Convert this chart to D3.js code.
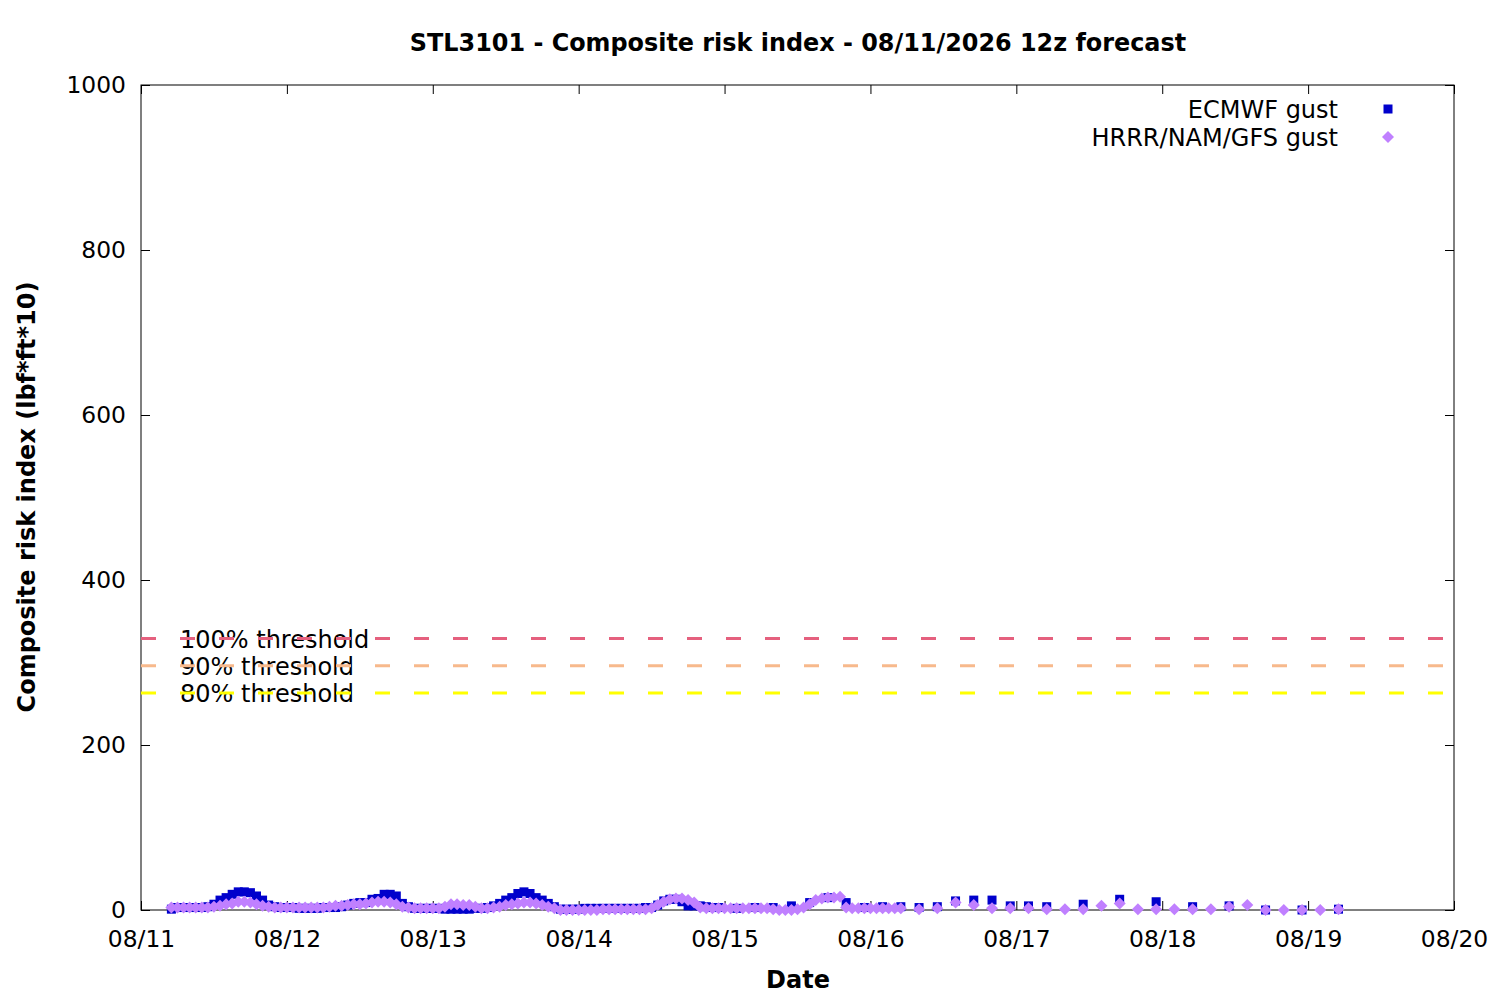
<!DOCTYPE html>
<html>
<head>
<meta charset="utf-8">
<script src="https://cdn.jsdelivr.net/npm/d3@7"></script>
<style>
  body { margin: 0; background: #fff; }
  svg { font-family: "DejaVu Sans", sans-serif; }
</style>
</head>
<body>
<div id="chart"></div>
<script>
// forecast hours (from 08/11 00:00 local) and values
var ecmwfSteps = [[5, 95, 1], [98, 149, 3], [155, 197, 6]];
var ecmwfValues = [
  1, 3, 3, 3, 3, 3, 4, 7, 12, 15, 19, 22, 22, 21, 17, 12, 6, 4,
  3, 3, 3, 2, 2, 2, 2, 3, 3, 3, 4,
  6, 8, 9, 9, 13, 14, 19, 19, 17, 8, 4,
  2, 2, 2, 2, 2, 1, 1, 1, 1, 1, 2,
  2, 3, 5, 8, 12, 15, 20, 22, 20, 15, 12, 8, 4,
  1, 1, 1, 1, 2, 2, 2, 2, 2, 2, 2, 2, 2, 2, 3,
  3, 6, 11, 13, 13, 10, 5, 5, 5, 4, 3, 3,
  // 3-hourly
  2, 3, 3, 5, 9, 15, 9, 3, 4, 4, 3, 4, 11, 12, 12, 5, 5, 4,
  // 6-hourly
  7, 13, 10, 4, 5, 0, 0, 1
];
var gfsSteps = [[5, 125, 1], [128, 197, 3]];
var gfsValues = [
  3, 3, 3, 3, 3, 3, 3,
  4, 5, 7, 8, 10, 10, 9, 7, 5, 4,
  3, 3, 3, 3, 3, 3, 3, 3, 3,
  4, 5, 5, 6, 7, 7, 8, 9, 10, 10, 9, 7, 4, 3,
  2, 2, 2, 2, 2,
  4, 7, 7, 6, 6, 4,
  2, 2, 3, 4, 6, 7, 8, 9, 9, 8, 6, 4, 2,
  0, 0, 0, 0, 0, 0, 0,
  1, 1, 1, 1, 1, 1, 1, 1, 2,
  6, 10, 13, 14, 14, 12, 9, 3, 2,
  2, 2, 2, 2, 2, 2, 2, 2, 2, 2,
  1, 0, 0, 0, 1,
  3, 7, 12, 14, 15, 15, 16,
  3, 2, 2, 2, 2, 2, 2, 2, 2, 2,
  // 3-hourly
  1, 2, 9, 6, 2, 2, 2, 1, 1, 1, 5, 8, 1, 1, 1, 1, 1, 4, 6, 0, 0, 0, 0, 1
];
var thresholds = [
  {label: "100% threshold", value: 329, color: "#e5607e"},
  {label: "90% threshold", value: 296, color: "#f7b98c"},
  {label: "80% threshold", value: 263, color: "#ffff00"}
];
var yTicks = [0, 200, 400, 600, 800, 1000];
var startDay = Date.UTC(2026, 7, 11);
var endDay = Date.UTC(2026, 7, 20);

var width = 1500, height = 1000;
var margin = {left: 141, right: 46, top: 85, bottom: 90};
var tickFont = 23.4;
var fontSize = 24;

function buildSeries(steps, values) {
  var hours = [];
  steps.forEach(function (s) {
    hours = hours.concat(d3.range(s[0], s[1] + 1, s[2]));
  });
  return hours.map(function (h, i) {
    return {date: new Date(startDay + h * 3600e3), value: values[i]};
  });
}
var ecmwf = buildSeries(ecmwfSteps, ecmwfValues);
var gfs = buildSeries(gfsSteps, gfsValues);

var svg = d3.select("#chart").append("svg")
  .attr("width", width)
  .attr("height", height);

var x = d3.scaleUtc()
  .domain([new Date(startDay), new Date(endDay)])
  .range([margin.left, width - margin.right]);
var y = d3.scaleLinear()
  .domain([0, 1000])
  .range([height - margin.bottom, margin.top]);

var dayTicks = d3.utcDay.range(new Date(startDay), new Date(endDay + 1));
var fmt = d3.utcFormat("%m/%d");

// axes, ticks pointing inward, mirrored on the opposite side
var tickLen = 9;
svg.append("g")
  .attr("transform", "translate(0," + y(0) + ")")
  .call(d3.axisBottom(x).tickValues(dayTicks).tickFormat(fmt).tickSizeInner(-tickLen).tickSizeOuter(0).tickPadding(20))
  .call(function (g) { g.select(".domain").remove(); });
svg.append("g")
  .attr("transform", "translate(0," + y(1000) + ")")
  .call(d3.axisTop(x).tickValues(dayTicks).tickFormat("").tickSizeInner(-tickLen).tickSizeOuter(0))
  .call(function (g) { g.select(".domain").remove(); });
svg.append("g")
  .attr("transform", "translate(" + x.range()[0] + ",0)")
  .call(d3.axisLeft(y).tickValues(yTicks).tickFormat(d3.format("d")).tickSizeInner(-tickLen).tickSizeOuter(0).tickPadding(15))
  .call(function (g) { g.select(".domain").remove(); });
svg.append("g")
  .attr("transform", "translate(" + x.range()[1] + ",0)")
  .call(d3.axisRight(y).tickValues(yTicks).tickFormat("").tickSizeInner(-tickLen).tickSizeOuter(0))
  .call(function (g) { g.select(".domain").remove(); });

svg.selectAll(".tick line").attr("stroke", "#000").attr("stroke-width", 1);
svg.selectAll(".tick text")
  .style("font-size", tickFont + "px")
  .style("font-family", "DejaVu Sans")
  .attr("fill", "#000");

svg.append("rect")
  .attr("x", x.range()[0])
  .attr("y", y(1000))
  .attr("width", x.range()[1] - x.range()[0])
  .attr("height", y(0) - y(1000))
  .attr("fill", "none")
  .attr("stroke", "#000")
  .attr("stroke-width", 1);

// threshold labels then dashed lines over them
svg.selectAll(".thlabel")
  .data(thresholds)
  .enter().append("text")
  .attr("class", "thlabel")
  .attr("x", x.range()[0] + 39)
  .attr("y", function (d) { return y(d.value) + 2; })
  .attr("dominant-baseline", "middle")
  .style("font-size", fontSize + "px")
  .text(function (d) { return d.label; });

svg.selectAll(".thline")
  .data(thresholds)
  .enter().append("line")
  .attr("class", "thline")
  .attr("x1", x.range()[0])
  .attr("x2", x.range()[1])
  .attr("y1", function (d) { return y(d.value); })
  .attr("y2", function (d) { return y(d.value); })
  .attr("stroke", function (d) { return d.color; })
  .attr("stroke-width", 3)
  .attr("stroke-dasharray", "15,24");

// points
var sq = 9;
svg.append("g").selectAll("rect")
  .data(ecmwf)
  .enter().append("rect")
  .attr("x", function (d) { return x(d.date) - sq / 2; })
  .attr("y", function (d) { return y(d.value) - sq / 2; })
  .attr("width", sq)
  .attr("height", sq)
  .attr("fill", "#0000cc");

var diamond = d3.symbol().type(d3.symbolSquare).size(72);
svg.append("g").selectAll("path")
  .data(gfs)
  .enter().append("path")
  .attr("d", diamond)
  .attr("transform", function (d) { return "translate(" + x(d.date) + "," + y(d.value) + ") rotate(45)"; })
  .attr("fill", "#c080ff");

// legend
var legend = [
  {label: "ECMWF gust", type: "square"},
  {label: "HRRR/NAM/GFS gust", type: "diamond"}
];
var lg = svg.append("g").selectAll("g")
  .data(legend)
  .enter().append("g")
  .attr("transform", function (d, i) { return "translate(0," + (111 + i * 28) + ")"; });
lg.append("text")
  .attr("x", 1338)
  .attr("text-anchor", "end")
  .attr("dominant-baseline", "middle")
  .style("font-size", fontSize + "px")
  .text(function (d) { return d.label; });
lg.each(function (d) {
  var g = d3.select(this);
  if (d.type === "square") {
    g.append("rect").attr("x", 1388 - sq / 2).attr("y", -sq / 2 - 2).attr("width", sq).attr("height", sq).attr("fill", "#0000cc");
  } else {
    g.append("path").attr("d", diamond).attr("transform", "translate(1388,-2) rotate(45)").attr("fill", "#c080ff");
  }
});

// titles
svg.append("text")
  .attr("x", 798)
  .attr("y", 51)
  .attr("text-anchor", "middle")
  .style("font-size", "23.9px")
  .style("font-weight", "bold")
  .text("STL3101 - Composite risk index - 08/11/2026 12z forecast");
svg.append("text")
  .attr("x", 798)
  .attr("y", 988)
  .attr("text-anchor", "middle")
  .style("font-size", fontSize + "px")
  .style("font-weight", "bold")
  .text("Date");
svg.append("text")
  .attr("transform", "translate(35,497) rotate(-90)")
  .attr("text-anchor", "middle")
  .style("font-size", fontSize + "px")
  .style("font-weight", "bold")
  .text("Composite risk index (lbf*ft*10)");
</script>
</body>
</html>
